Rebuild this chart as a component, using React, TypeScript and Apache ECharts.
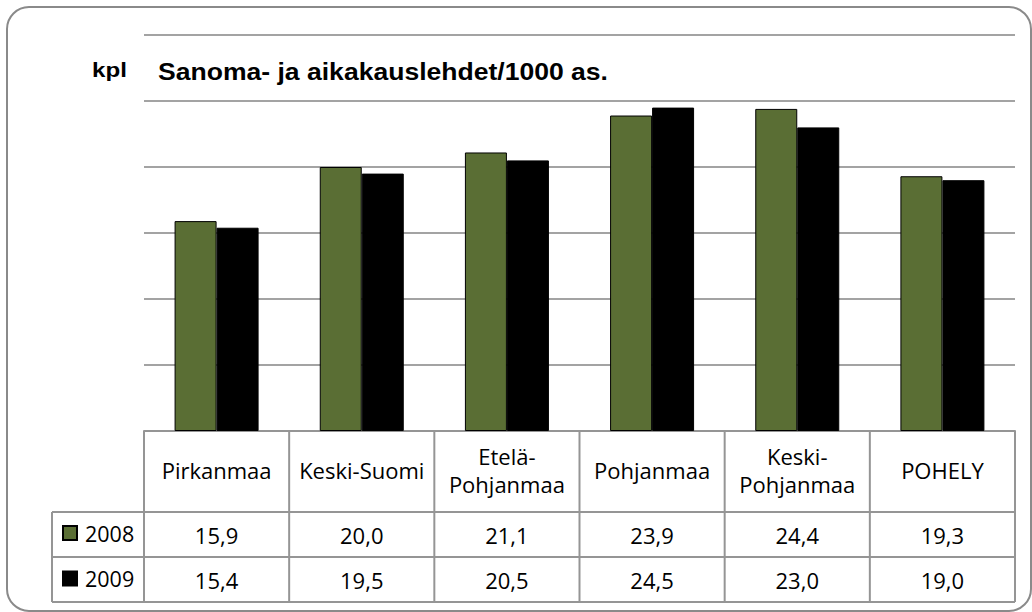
import React, { useEffect, useRef } from "react";
import * as echarts from "echarts";

const categories = ["Pirkanmaa", "Keski-Suomi", "Etelä-Pohjanmaa", "Pohjanmaa", "Keski-Pohjanmaa", "POHELY"];
const seriesNames = ["2008", "2009"];
const values2008 = [15.9, 20.0, 21.1, 23.9, 24.4, 19.3];
const values2009 = [15.4, 19.5, 20.5, 24.5, 23.0, 19.0];
const titleText = "Sanoma- ja aikakauslehdet/1000 as.";
const unitText = "kpl";

const W = 1032;
const H = 612;
const GRID_LEFT = 144;
const GRID_RIGHT = 17;
const GRID_TOP = 35;
const AXIS_Y = 431;
const ROW1 = 512;
const ROW2 = 557;
const ROW3 = 602;
const LEGEND_LEFT = 52;
const LINE_COLOR = "#959595";
const TABLE_FONT = "'Open Sans', 'Noto Sans', sans-serif";
const TITLE_FONT = "'Liberation Sans', Arial, sans-serif";

const fmt = (v: number) => v.toFixed(1).replace(".", ",");

export default function App() {
  const ref = useRef<HTMLDivElement>(null);
  useEffect(() => {
    if (!ref.current) return;
    const chart = echarts.init(ref.current, undefined, { renderer: "svg" });
    const plotW = W - GRID_LEFT - GRID_RIGHT;
    const colW = plotW / categories.length;
    const lines: any[] = [];
    const seg = (x1: number, y1: number, x2: number, y2: number) =>
      lines.push({
        type: "line",
        shape: { x1, y1, x2, y2 },
        style: { stroke: LINE_COLOR, lineWidth: 2 },
        silent: true,
      });
    for (let k = 0; k <= categories.length; k++) {
      const x = GRID_LEFT + k * colW;
      seg(x, AXIS_Y, x, ROW3);
    }
    seg(LEGEND_LEFT, ROW1, LEGEND_LEFT, ROW3);
    seg(LEGEND_LEFT, ROW1, GRID_LEFT + plotW, ROW1);
    seg(LEGEND_LEFT, ROW2, GRID_LEFT + plotW, ROW2);
    seg(LEGEND_LEFT, ROW3, GRID_LEFT + plotW, ROW3);

    const tableLabel = {
      interval: 0,
      color: "#000",
      fontFamily: TABLE_FONT,
      fontSize: 22,
      lineHeight: 28,
      verticalAlign: "middle",
      align: "center",
    };

    chart.setOption({
      animation: false,
      backgroundColor: "#fff",
      legend: {
        orient: "vertical",
        left: 62,
        top: 522,
        padding: 0,
        itemWidth: 14,
        itemHeight: 14,
        itemGap: 23.5,
        icon: "rect",
        selectedMode: false,
        data: seriesNames,
        textStyle: { fontFamily: TABLE_FONT, fontSize: 21.5, lineHeight: 22, color: "#000", padding: [0, 0, 0, 3] },
      },
      grid: { left: GRID_LEFT, right: GRID_RIGHT, top: GRID_TOP, bottom: H - AXIS_Y, containLabel: false },
      xAxis: [
        {
          type: "category",
          data: categories,
          position: "bottom",
          axisLine: { show: true, lineStyle: { color: LINE_COLOR, width: 2 } },
          axisTick: { show: false },
          axisLabel: {
            ...tableLabel,
            margin: 38.5,
            formatter: (v: string) => (v.length > 12 ? v.replace("-", "-\n") : v),
          },
        },
        {
          type: "category",
          data: categories,
          position: "bottom",
          axisLine: { show: false },
          axisTick: { show: false },
          axisLabel: { ...tableLabel, margin: 103.5, formatter: (_v: string, i: number) => fmt(values2008[i]) },
        },
        {
          type: "category",
          data: categories,
          position: "bottom",
          axisLine: { show: false },
          axisTick: { show: false },
          axisLabel: { ...tableLabel, margin: 148.5, formatter: (_v: string, i: number) => fmt(values2009[i]) },
        },
      ],
      yAxis: {
        type: "value",
        min: 0,
        max: 30,
        interval: 5,
        axisLabel: { show: false },
        axisLine: { show: false },
        axisTick: { show: false },
        splitLine: { show: true, lineStyle: { color: "#a3a3a3", width: 2 } },
      },
      series: [
        {
          name: seriesNames[0],
          type: "bar",
          xAxisIndex: 0,
          data: values2008,
          barWidth: 42,
          barGap: "0%",
          itemStyle: { color: "#5a6e34", borderColor: "#000", borderWidth: 1 },
        },
        {
          name: seriesNames[1],
          type: "bar",
          xAxisIndex: 0,
          data: values2009,
          barWidth: 42,
          barGap: "0%",
          itemStyle: { color: "#000", borderColor: "#000", borderWidth: 1 },
        },
      ],
      graphic: [
        ...lines,
        {
          type: "text",
          x: 92,
          y: 70,
          scaleX: 1.15,
          silent: true,
          style: {
            text: unitText,
            x: 0,
            y: 0,
            align: "left",
            verticalAlign: "middle",
            fill: "#000",
            font: `bold 21px ${TITLE_FONT}`,
          },
        },
        {
          type: "text",
          x: 158,
          y: 72,
          scaleX: 1.13,
          silent: true,
          style: {
            text: titleText,
            x: 0,
            y: 0,
            align: "left",
            verticalAlign: "middle",
            fill: "#000",
            font: `bold 23.5px ${TITLE_FONT}`,
          },
        },
        {
          type: "rect",
          shape: { x: 7, y: 7, width: 1024, height: 604, r: 22 },
          style: { fill: "none", stroke: "#8a8a8a", lineWidth: 2 },
          silent: true,
        },
      ],
    });
    return () => chart.dispose();
  }, []);
  return <div ref={ref} style={{ position: "fixed", left: 0, top: 0, width: W, height: H }} />;
}
